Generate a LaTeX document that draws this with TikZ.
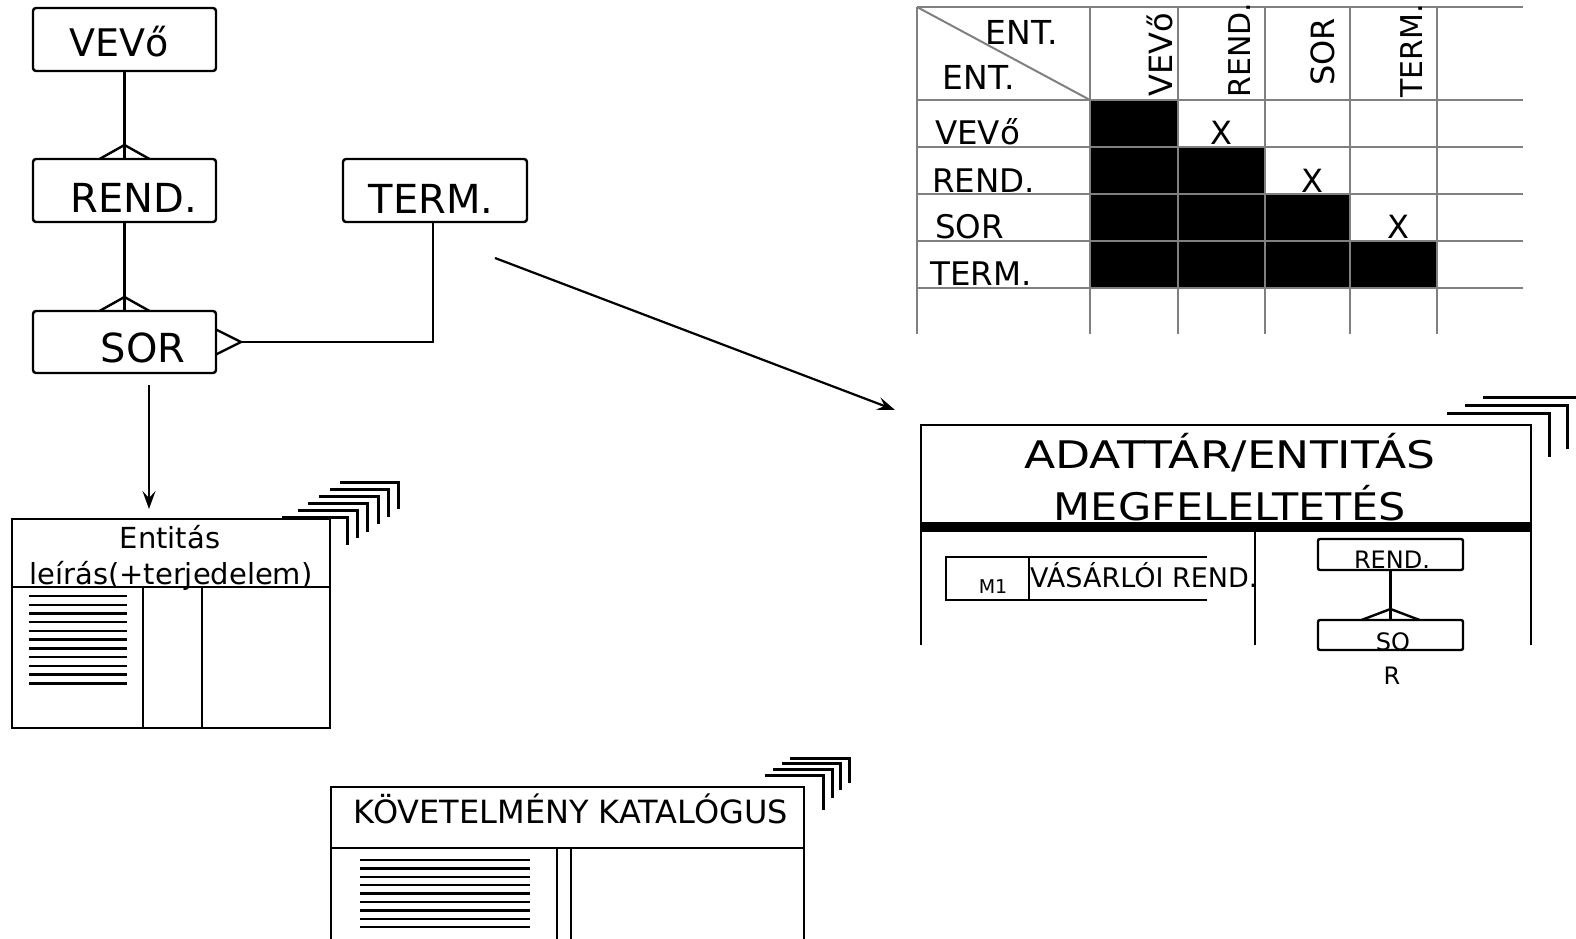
\documentclass[tikz,border=0pt]{standalone}
\usepackage{fontspec}
\setmainfont{DejaVu Sans}
\usetikzlibrary{arrows.meta}
\newcommand\fsz[1]{\fontsize{#1}{#1}\selectfont}
\definecolor{gridgray}{RGB}{128,128,128}
\begin{document}
\begin{tikzpicture}[x=1pt,y=-1pt,
  erbox/.style={draw,line width=2.4pt,rounded corners=3pt,inner sep=0pt,outer sep=0pt,anchor=north west},
  plainbox/.style={draw,line width=2.4pt,inner sep=0pt,outer sep=0pt,anchor=north west},
  txt/.style={inner sep=0pt,anchor=base},
  txtw/.style={inner sep=0pt,anchor=base west},
  vtxt/.style={inner sep=0pt,anchor=base west,rotate=90},
  ln/.style={line width=2.4pt},
  shad/.style={line width=3pt},
  gridln/.style={draw=gridgray,line width=2pt},
  arr/.style={line width=2.2pt,-{Stealth[length=18pt,width=13pt,inset=7pt]}}]
\useasboundingbox (0,0) rectangle (1576,939);

% ---------------- ER diagram ----------------
\node[erbox,minimum width=183pt,minimum height=63pt] (vevo) at (33,8) {};
\node[erbox,minimum width=183pt,minimum height=63pt] (rend) at (33,159) {};
\node[erbox,minimum width=184pt,minimum height=63pt] (term) at (343,159) {};
\node[erbox,minimum width=183pt,minimum height=62pt] (sor) at (33,311) {};
\node[txt] (tvevo) at (119,57) {\fsz{38}VEVő};
\node[txt] (trend) at (134,212) {\fsz{40}REND.};
\node[txt] (tterm) at (431,213) {\fsz{40}TERM.};
\node[txt] (tsor) at (143,362) {\fsz{40}SOR};

\draw[ln] (vevo.south) -- (rend.north);
\draw[ln] (rend.north) ++(-25,0) -- ++(25,-14) -- ++(25,14);
\draw[ln] (rend.south) -- (sor.north);
\draw[ln] (sor.north) ++(-25,0) -- ++(25,-14) -- ++(25,14);
\draw[ln] ([xshift=-2pt]term.south) |- ([xshift=25pt]sor.east);
\draw[ln] (sor.east) ++(0,-12.5) -- ++(25,12.5) -- ++(-25,12.5);

% ---------------- Entity description box ----------------
\node[plainbox,minimum width=318pt,minimum height=209pt] (ent) at (12,519) {};
\draw[ln] (12,587) -- (330,587);
\draw[ln] (143,587) -- (143,728);
\draw[ln] (202,587) -- (202,728);
\foreach \k in {0,...,10} \draw[ln] (29,{596+8.73*\k}) -- (127,{596+8.73*\k});
\node[txt] (tent1) at (170,548) {\fsz{29}Entitás};
\node[txt] (tent2) at (171,584) {\fsz{29}leírás(+terjedelem)};
\draw[shad] (282,517) -- (347,517) -- (347,545);
\draw[shad] (298,510) -- (357,510) -- (357,538);
\draw[shad] (308,503) -- (367,503) -- (367,532);
\draw[shad] (319,496) -- (378,496) -- (378,524);
\draw[shad] (330,489) -- (388,489) -- (388,517);
\draw[shad] (340,482) -- (398,482) -- (398,509);

\draw[arr] ([xshift=24.5pt,yshift=-12pt]sor.south) -- ([xshift=-22pt,yshift=10pt]ent.north);

% ---------------- Requirement catalogue ----------------
\node[plainbox,minimum width=473pt,minimum height=61pt] (kov) at (331,787) {};
\draw[ln] (331,848) -- (331,945);
\draw[ln] (804,848) -- (804,945);
\draw[ln] (557,848) -- (557,945);
\draw[ln] (571,848) -- (571,945);
\foreach \k in {0,...,8} \draw[ln] (360,{860+8.4*\k}) -- (530,{860+8.4*\k});
\node[txt] (tkov) at (571,823) {\fsz{32}KÖVETELMÉNY KATALÓGUS};
\draw[shad] (765,775) -- (823,775) -- (823,810);
\draw[shad] (773,769) -- (832,769) -- (832,798);
\draw[shad] (782,763) -- (840,763) -- (840,790);
\draw[shad] (790,758) -- (849,758) -- (849,783);

% ---------------- Matrix ----------------
\fill (1090,100) rectangle (1178,147);
\fill (1090,147) rectangle (1265,194);
\fill (1090,194) rectangle (1350,241);
\fill (1090,241) rectangle (1437,288);
\foreach \yy in {7,100,147,194,241,288} \draw[gridln] (917,\yy) -- (1523,\yy);
\foreach \xx in {917,1090,1178,1265,1350,1437} \draw[gridln] (\xx,7) -- (\xx,334);
\draw[gridln] (917,7) -- (1090,100);
\node[txt] (hent1) at (1022,45) {\fsz{33}ENT.};
\node[txt] (hent2) at (979,90) {\fsz{33}ENT.};
\node[txtw] (r1) at (935,145) {\fsz{32.5}VEVő};
\node[txtw] (r2) at (932,192) {\fsz{32.5}REND.};
\node[txtw] (r3) at (935,238) {\fsz{32.5}SOR};
\node[txtw] (r4) at (930,285) {\fsz{32.5}TERM.};
\node[vtxt] (c1) at (1172,97) {\fsz{32}VEVő};
\node[vtxt] (c2) at (1250,98) {\fsz{30}REND.};
\node[vtxt] (c3) at (1334,86) {\fsz{32}SOR};
\node[vtxt] (c4) at (1422,98) {\fsz{30}TERM.};
\node[txt] (x1) at (1221,145) {\fsz{32}X};
\node[txt] (x2) at (1312,192) {\fsz{32}X};
\node[txt] (x3) at (1398,238) {\fsz{32}X};

% ---------------- ADATTAR / ENTITAS ----------------
\coordinate (adnw) at (921,425);
\draw[ln] (921,645) -- (adnw) -- (1531,425) -- (1531,645);
\draw[line width=10pt] (921,527) -- (1531,527);
\draw[ln] (1255,532) -- (1255,645);
\node[txt] (tad1) at (1230,468) {\scalebox{1.2}[1]{\fsz{38}ADATTÁR/ENTITÁS}};
\node[txt] (tad2) at (1230,520) {\scalebox{1.13}[1]{\fsz{38}MEGFELELTETÉS}};
\draw[shad] (1447,413) -- (1549,413) -- (1549,457);
\draw[shad] (1465,405) -- (1567,405) -- (1567,449);
\draw[shad] (1483,397) -- (1590,397) -- (1590,441);

\draw[ln] (1207,557) -- (946,557) -- (946,600) -- (1207,600);
\draw[ln] (1029,557) -- (1029,600);
\node[txt] (tm1) at (993,593) {\fsz{19}M1};
\node[txtw] (tvas) at (1030,587) {\fsz{27}VÁSÁRLÓI REND.};

\node[erbox,rounded corners=2pt,minimum width=145pt,minimum height=31pt] (rend2) at (1318,539) {};
\node[erbox,rounded corners=2pt,minimum width=145pt,minimum height=30pt] (so2) at (1318,620) {};
\draw[ln] (rend2.south) -- (so2.north);
\draw[ln] (so2.north) ++(-29,0) -- ++(29,-11) -- ++(29,11);
\node[txt] (trend2) at (1392,568) {\fsz{24}REND.};
\node[txt] (tso2) at (1393,650) {\fsz{24}SO};
\node[txt] (tr2) at (1392,684) {\fsz{24}R};

\draw[arr] ([xshift=-32pt,yshift=-36pt]term.south east) -- ([xshift=-26pt,yshift=15pt]adnw);
\end{tikzpicture}
\end{document}
